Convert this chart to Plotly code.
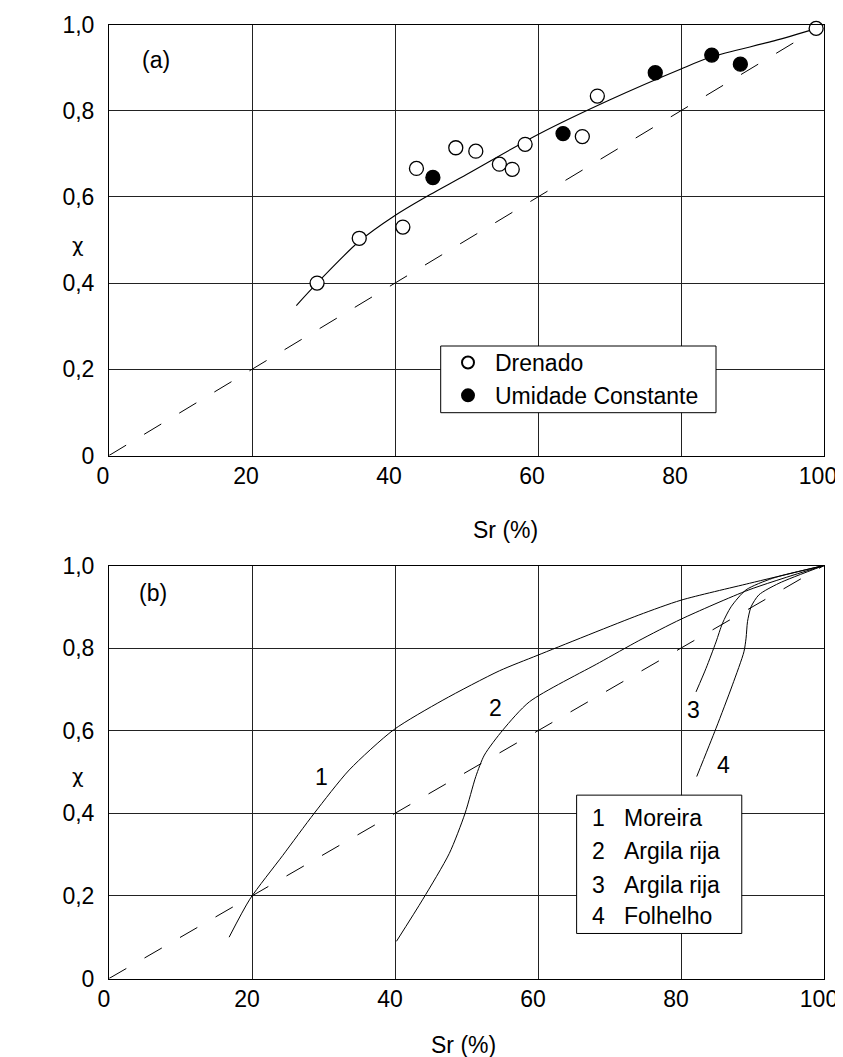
import plotly.graph_objects as go

# ---------------- data ----------------
sr_ticks = [0, 20, 40, 60, 80, 100]
sr_tick_text = ["0", "20", "40", "60", "80", "100"]
chi_ticks = [0, 0.2, 0.4, 0.6, 0.8, 1.0]
chi_tick_text = ["0", "0,2", "0,4", "0,6", "0,8", "1,0"]

# (a) measured points
drenado_sr = [29.1, 35.0, 41.1, 43.0, 48.5, 51.3, 54.6, 56.4, 58.2, 66.2, 68.3, 98.9]
drenado_chi = [0.400, 0.504, 0.530, 0.666, 0.714, 0.706, 0.676, 0.664, 0.722, 0.740, 0.834, 0.991]
umid_sr = [45.3, 63.5, 76.4, 84.3, 88.3]
umid_chi = [0.645, 0.747, 0.888, 0.929, 0.908]

# (a) fitted curve
trend_sr = [26.2, 29.1, 35.0, 40.0, 44.0, 50.0, 60.0, 70.0, 80.0, 84.3, 93.0, 99.0]
trend_chi = [0.348, 0.400, 0.497, 0.557, 0.597, 0.652, 0.745, 0.825, 0.897, 0.925, 0.962, 0.991]

# 1:1 reference line
diag_sr = [0, 100]
diag_chi = [0, 1.0]

# (b) curves
moreira_sr = [16.8, 19.7, 24.3, 28.7, 33.6, 39.8, 46.7, 54.6, 60.0, 74.1, 80.0, 89.6, 100]
moreira_chi = [0.100, 0.192, 0.298, 0.400, 0.505, 0.602, 0.674, 0.745, 0.783, 0.880, 0.916, 0.957, 1.0]
argila2_sr = [40.2, 43.9, 47.6, 49.8, 51.3, 52.5, 55.1, 58.8, 68.6, 74.1, 80.0, 89.5, 100]
argila2_chi = [0.090, 0.192, 0.303, 0.400, 0.489, 0.541, 0.602, 0.670, 0.765, 0.818, 0.870, 0.941, 1.0]
argila3_sr = [82.1, 83.5, 84.9, 85.8, 87.0, 89.1, 92.8, 100]
argila3_chi = [0.694, 0.751, 0.815, 0.860, 0.900, 0.941, 0.969, 1.0]
folhelho_sr = [82.2, 84.9, 87.2, 88.8, 89.1, 89.3, 89.8, 90.9, 93.7, 100]
folhelho_chi = [0.489, 0.606, 0.711, 0.791, 0.824, 0.864, 0.900, 0.929, 0.957, 1.0]

curve_ids = ["1", "2", "3", "4"]
curve_names = ["Moreira", "Argila rija", "Argila rija", "Folhelho"]
curve_label_sr = [29.7, 54.0, 81.7, 86.0]
curve_label_chi = [0.487, 0.654, 0.650, 0.517]

# ---------------- figure ----------------
W, H = 843, 1057
OFF = 8  # page offset of the plot div
FONT = "Liberation Sans"
FS = 23


def px_x(p):
    return (p - OFF) / W


def px_y(p):
    return 1 - (p - OFF) / H


fig = go.Figure()

dash_k = dict(color="black", width=1, dash="20px,21px")

# top panel
fig.add_trace(go.Scatter(x=diag_sr, y=diag_chi, mode="lines", line=dash_k,
                         showlegend=False, xaxis="x", yaxis="y", hoverinfo="skip"))
fig.add_trace(go.Scatter(x=trend_sr, y=trend_chi, mode="lines",
                         line=dict(color="black", width=1.1, shape="spline", smoothing=0.8),
                         showlegend=False, xaxis="x", yaxis="y"))
fig.add_trace(go.Scatter(x=drenado_sr, y=drenado_chi, mode="markers", name="Drenado",
                         marker=dict(symbol="circle", size=14, color="white",
                                     line=dict(color="black", width=1.3)),
                         cliponaxis=False, xaxis="x", yaxis="y"))
fig.add_trace(go.Scatter(x=umid_sr, y=umid_chi, mode="markers", name="Umidade Constante",
                         marker=dict(symbol="circle", size=14, color="black",
                                     line=dict(color="black", width=1.3)),
                         cliponaxis=False, xaxis="x", yaxis="y"))

# bottom panel
fig.add_trace(go.Scatter(x=diag_sr, y=diag_chi, mode="lines", line=dash_k,
                         showlegend=False, xaxis="x2", yaxis="y2", hoverinfo="skip"))
for xs, ys, nm in [(moreira_sr, moreira_chi, curve_names[0]),
                   (argila2_sr, argila2_chi, curve_names[1]),
                   (argila3_sr, argila3_chi, curve_names[2]),
                   (folhelho_sr, folhelho_chi, curve_names[3])]:
    fig.add_trace(go.Scatter(x=xs, y=ys, mode="lines", name=nm,
                             line=dict(color="black", width=1.0, shape="spline", smoothing=0.7),
                             showlegend=False, xaxis="x2", yaxis="y2"))

xdom = [px_x(109), px_x(824)]
axis_common = dict(
    showgrid=True, gridcolor="#222", gridwidth=1,
    showline=True, linecolor="black", linewidth=1, mirror=True,
    zeroline=False, ticks="", automargin=False, ticklabeloverflow="allow",
    tickfont=dict(family=FONT, size=FS, color="black"),
)

fig.update_layout(
    width=W, height=H,
    margin=dict(l=0, r=0, t=0, b=0, pad=0, autoexpand=False),
    paper_bgcolor="white", plot_bgcolor="white",
    font=dict(family=FONT, size=FS, color="black"),
    xaxis=dict(domain=xdom, range=[0, 100], tickvals=sr_ticks, ticktext=sr_tick_text,
               anchor="y", ticklabelstandoff=0, ticklabelshift=-6, **axis_common),
    yaxis=dict(domain=[px_y(455.5), px_y(24.5)], range=[0, 1.0],
               tickvals=chi_ticks, ticktext=chi_tick_text,
               anchor="x", ticklabelstandoff=9, **axis_common),
    xaxis2=dict(domain=xdom, range=[0, 100], tickvals=sr_ticks, ticktext=sr_tick_text,
                anchor="y2", ticklabelstandoff=0, ticklabelshift=-5, **axis_common),
    yaxis2=dict(domain=[px_y(978.5), px_y(565.5)], range=[0, 1.0],
                tickvals=chi_ticks, ticktext=chi_tick_text,
                anchor="x2", ticklabelstandoff=9, **axis_common),
    legend=dict(x=px_x(441), y=px_y(341), xanchor="left", yanchor="top",
                bgcolor="rgba(0,0,0,0)", borderwidth=0, itemsizing="constant",
                font=dict(family=FONT, size=FS, color="black"),
                itemwidth=44, tracegroupgap=0),
    showlegend=True,
)

shapes = [
    # legend box (a)
    dict(type="rect", xref="paper", yref="paper",
         x0=px_x(440.7), x1=px_x(716), y0=px_y(412.7), y1=px_y(346),
         fillcolor="white", line=dict(color="black", width=1), layer="above"),
    # legend box (b)
    dict(type="rect", xref="x2", yref="y2", x0=65.4, x1=88.5, y0=0.109, y1=0.444,
         fillcolor="white", line=dict(color="black", width=1), layer="above"),
]
fig.update_layout(shapes=shapes)

ann = []
ann.append(dict(text="(a)", x=6.6, y=0.918, xref="x", yref="y", showarrow=False,
                font=dict(family=FONT, size=FS)))
ann.append(dict(text="(b)", x=6.1, y=0.933, xref="x2", yref="y2", showarrow=False,
                font=dict(family=FONT, size=FS)))
for t, xv, yv in zip(curve_ids, curve_label_sr, curve_label_chi):
    ann.append(dict(text=t, x=xv, y=yv, xref="x2", yref="y2", showarrow=False,
                    font=dict(family=FONT, size=FS)))
# legend (b) entries
row_y = [0.389, 0.308, 0.226, 0.151]
for t, nm, yv in zip(curve_ids, curve_names, row_y):
    ann.append(dict(text=t, x=68.5, y=yv, xref="x2", yref="y2", showarrow=False,
                    xanchor="center", yanchor="middle", font=dict(family=FONT, size=FS)))
    ann.append(dict(text=nm, x=71.8, y=yv, xref="x2", yref="y2", showarrow=False,
                    xanchor="left", yanchor="middle", font=dict(family=FONT, size=FS)))
# axis titles
paper_ann = [("Sr (%)", 505, 530, FONT, FS), ("Sr (%)", 463, 1045, FONT, FS),
             ("χ", 78, 245, "DejaVu Sans", 20), ("χ", 78, 776, "DejaVu Sans", 20)]
for t, xp, yp, fam, sz in paper_ann:
    ann.append(dict(text=t, x=px_x(xp), y=px_y(yp), xref="paper", yref="paper",
                    xanchor="center", yanchor="middle", showarrow=False,
                    font=dict(family=fam, size=sz)))
fig.update_layout(annotations=ann)

fig.write_html("out.html")
